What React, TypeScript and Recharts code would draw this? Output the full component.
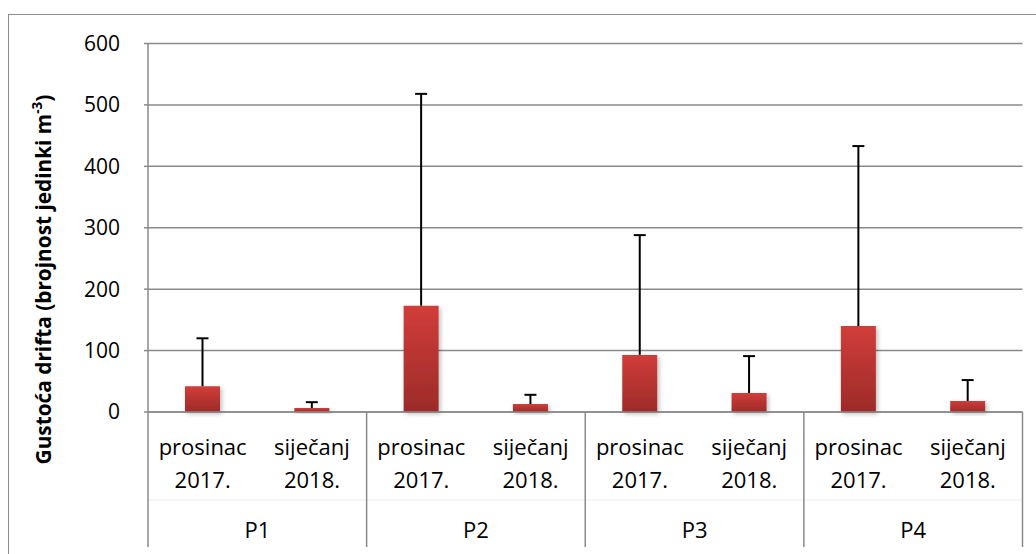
import React from "react";
import { BarChart, Bar, XAxis, YAxis, CartesianGrid } from "recharts";

const categories = ["prosinac 2017.", "siječanj 2018.", "prosinac 2017.", "siječanj 2018.", "prosinac 2017.", "siječanj 2018.", "prosinac 2017.", "siječanj 2018."];
const monthLines1 = ["prosinac", "siječanj"];
const monthLines2 = ["2017.", "2018."];
const groups = ["P1", "P1", "P2", "P2", "P3", "P3", "P4", "P4"];
const means = [42, 6.5, 173, 13, 93, 31, 140, 18];
const errors = [78, 9.5, 345, 15, 195, 60, 293, 34];
const yTicks = [0, 100, 200, 300, 400, 500, 600];

const data = categories.map((c, i) => ({
  key: i,
  cat: c,
  group: groups[i],
  mean: means[i],
  err: errors[i],
}));

const FONT = "'Open Sans', 'DejaVu Sans', sans-serif";

const ErrShape = (props: any) => {
  const { x, y, width, height } = props;
  if (x == null || y == null) return null;
  const cx = x + width / 2;
  const cap = 6;
  return (
    <g>
      <line x1={cx} x2={cx} y1={y + height} y2={y} stroke="#000" strokeWidth={2} />
      <line x1={cx - cap} x2={cx + cap} y1={y} y2={y} stroke="#000" strokeWidth={2} />
    </g>
  );
};

const XTick = (props: any) => {
  const { x, y, payload, index, width, visibleTicksCount } = props;
  const half =
    payload && typeof payload.offset === "number" && payload.offset > 0
      ? payload.offset
      : width / visibleTicksCount / 2;
  const i = index;
  const sub = i % 2;
  const sepColor = "#8a8a8a";
  const fs = 22;
  const els: any[] = [];
  els.push(
    <line key="h" x1={x - half} x2={x + half} y1={y + 88} y2={y + 88} stroke="#ececec" strokeWidth={1} />
  );
  els.push(
    <text key="t1" x={x} y={y + 43} textAnchor="middle" fontFamily={FONT} fontSize={fs} fill="#000">
      {monthLines1[sub]}
    </text>
  );
  els.push(
    <text key="t2" x={x} y={y + 76} textAnchor="middle" fontFamily={FONT} fontSize={fs} fill="#000">
      {monthLines2[sub]}
    </text>
  );
  if (sub === 0) {
    els.push(
      <line key="s" x1={x - half} x2={x - half} y1={y} y2={y + 135} stroke={sepColor} strokeWidth={1.5} />
    );
    els.push(
      <text key="g" x={x + half} y={y + 126} textAnchor="middle" fontFamily={FONT} fontSize={fs} fill="#000">
        {groups[i]}
      </text>
    );
  }
  if (i === visibleTicksCount - 1) {
    els.push(
      <line key="e" x1={x + half} x2={x + half} y1={y} y2={y + 135} stroke={sepColor} strokeWidth={1.5} />
    );
  }
  return <g>{els}</g>;
};

const YTitle = (props: any) => {
  const vb = props.viewBox || {};
  const cx = (vb.x ?? 0) + 51;
  const cy = (vb.y ?? 0) + 236;
  return (
    <text
      x={cx}
      y={cy}
      transform={`rotate(-90, ${cx}, ${cy})`}
      textAnchor="middle"
      fontFamily={FONT}
      fontWeight="bold"
      fontSize={20.8}
      fill="#000"
    >
      <tspan>Gustoća drifta (brojnost jedinki m</tspan>
      <tspan fontSize={13.5} dy={-9}>-3</tspan>
      <tspan dy={9}>)</tspan>
    </text>
  );
};

export default function App() {
  return (
    <div style={{ position: "absolute", left: 0, top: 0, width: 1036, height: 554, overflow: "hidden", background: "#fff" }}>
      <div
        style={{
          position: "absolute",
          left: 8,
          top: 14,
          width: 1100,
          height: 600,
          border: "1px solid #8c8c8c",
          boxSizing: "border-box",
        }}
      />
      <div style={{ position: "absolute", left: 0, top: 0 }}>
        <BarChart
          width={1036}
          height={554}
          data={data}
          margin={{ top: 43.5, right: 13.5, left: 0, bottom: 0 }}
        >
          <defs>
            <linearGradient id="barGrad" x1="0" y1="0" x2="0" y2="1">
              <stop offset="0%" stopColor="#D13D3A" />
              <stop offset="100%" stopColor="#9C2B29" />
            </linearGradient>
            <filter id="barShadow" x="-20%" y="-20%" width="150%" height="150%">
              <feDropShadow dx={2} dy={2} stdDeviation={2} floodColor="#000" floodOpacity={0.25} />
            </filter>
          </defs>
          <CartesianGrid vertical={false} stroke="#8a8a8a" strokeWidth={1.5} />
          <XAxis
            dataKey="key"
            height={142}
            tickLine={false}
            tickSize={0}
            tickMargin={0}
            axisLine={{ stroke: "#8a8a8a", strokeWidth: 1.5 }}
            tick={<XTick />}
            interval={0}
          />
          <YAxis
            width={148}
            domain={[0, 600]}
            ticks={yTicks}
            interval={0}
            tickSize={4}
            tickMargin={24}
            tickLine={{ stroke: "#8a8a8a", strokeWidth: 1.5 }}
            axisLine={{ stroke: "#8a8a8a", strokeWidth: 1.5 }}
            tick={{ fontFamily: FONT, fontSize: 21, fill: "#000" }}
            label={{ content: <YTitle /> }}
          />
          <Bar
            dataKey="mean"
            stackId="a"
            barSize={35}
            fill="url(#barGrad)"
            filter="url(#barShadow)"
            isAnimationActive={false}
          />
          <Bar
            dataKey="err"
            stackId="a"
            barSize={35}
            fill="none"
            shape={<ErrShape />}
            isAnimationActive={false}
          />
        </BarChart>
      </div>
    </div>
  );
}
